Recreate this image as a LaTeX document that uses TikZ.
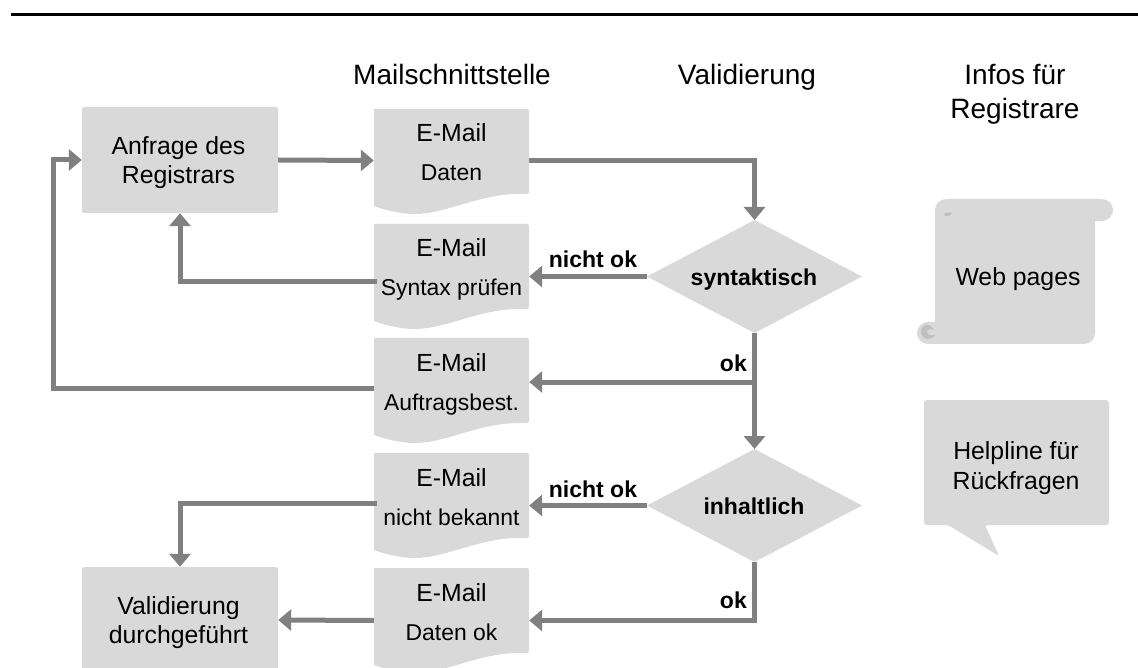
\documentclass[tikz,border=0pt]{standalone}
\usepackage{fontspec}
\setmainfont{Liberation Sans}
\usetikzlibrary{arrows.meta,calc}
\definecolor{shapefill}{HTML}{D9D9D9}
\definecolor{linegray}{HTML}{808080}
\definecolor{curlgray}{HTML}{BFBFBF}
\tikzset{
  x=1pt,y=-1pt,
  conn/.style={draw=linegray,line width=5pt,-{Triangle[length=13pt,width=21pt]}},
  connplain/.style={draw=linegray,line width=5pt},
  box/.style={fill=shapefill,rounded corners=2pt,minimum width=196pt,inner sep=0pt},
  docarea/.style={minimum width=155pt,minimum height=105pt,inner sep=0pt},
  basetxt/.style={anchor=base,inner sep=0pt},
  txt/.style={basetxt,font=\fontsize{24.8}{29}\selectfont,align=center},
  txtsmall/.style={basetxt,font=\fontsize{22.9}{26}\selectfont,align=center},
  headw/.style={basetxt,font=\fontsize{28}{34.5}\selectfont,align=center},
  lab/.style={basetxt,font=\fontsize{23}{29}\selectfont\bfseries},
}
\newcommand{\maildoc}[3]{% name, top, line 2
  \fill[shapefill,rounded corners=2pt] (374,#2) -- (529,#2) -- (529,#2+85) -- (520,#2+85)
     [sharp corners] .. controls (480,#2+85) and (445,#2+105) .. (415,#2+105)
     .. controls (400,#2+105) and (385,#2+101) .. (374,#2+97) -- cycle;
  \node[docarea] (#1) at (451.5,#2+52.5) {};
  \node[txt] (#1a) at (451.5,#2+33) {E-Mail};
  \node[txtsmall] (#1b) at (451.5,#2+72) {#3};
}
\begin{document}
\begin{tikzpicture}
\useasboundingbox (0,0) rectangle (1138,668);
\begin{scope}
\clip (0,0) rectangle (1138,668);
\node[box,minimum height=106pt] (anf) at (180,160) {};
\node[box,minimum height=106pt] (val) at (180,620) {};
\maildoc{m1}{109}{Daten}
\maildoc{m2}{224}{Syntax prüfen}
\maildoc{m3}{338}{Auftragsbest.}
\maildoc{m4}{453}{nicht bekannt}
\maildoc{m5}{568}{Daten ok}
\coordinate (d1n) at (754.5,220);
\coordinate (d1s) at (754.5,333);
\coordinate (d1w) at (647,276.5);
\coordinate (d1e) at (862,276.5);
\fill[shapefill] (d1n) -- (d1e) -- (d1s) -- (d1w) -- cycle;
\coordinate (d2n) at (754.5,449);
\coordinate (d2s) at (754.5,562);
\coordinate (d2w) at (647,505.5);
\coordinate (d2e) at (862,505.5);
\fill[shapefill] (d2n) -- (d2e) -- (d2s) -- (d2w) -- cycle;
\end{scope}
\coordinate (ruleL) at (11,14.5);
\coordinate (ruleR) at (1138,14.5);
\draw[black,line width=2.6pt] (ruleL) -- (ruleR);
% connectors
\draw[conn] (anf.east) -- ($(m1.west)+(0,-1)$);
\draw[conn] ($(m1.east)+(0,-0.5)$) -| (d1n);
\draw[conn] (d1w) -- (m2.east);
\draw[conn] ($(m2.west)+(3,5.5)$) -| (anf.south);
\coordinate (okj1) at (754.5,382);
\draw[connplain] (d1s) -- (okj1);
\draw[conn] (okj1) -- (m3.east |- okj1);
\draw[conn] (okj1) -- (d2n);
\draw[conn] ($(m3.west)+(0,-2.5)$) -- (53,388) |- (anf.west);
\draw[conn] (d2w) -- (m4.east);
\draw[conn] ($(m4.west)+(3,-2.5)$) -| (val.north);
\draw[conn] (d2s) |- (m5.east);
\draw[conn] (m5.west) -- (val.east);
% labels
\node[txt] (anft) at (178.5,184) {Anfrage des\\Registrars};
\node[txt] (valt) at (178.5,643) {Validierung\\durchgeführt};
\node[lab] (d1t) at (754,286) {syntaktisch};
\node[lab] (d2t) at (754,514) {inhaltlich};
\node[lab] (no1) at (593,268) {nicht ok};
\node[lab] (no2) at (593,497) {nicht ok};
\node[lab,anchor=base east] (ok1) at (747,371) {ok};
\node[lab,anchor=base east] (ok2) at (747,608) {ok};
\node[headw] (h1) at (452,85) {Mailschnittstelle};
\node[headw] (h2) at (747,85) {Validierung};
\node[headw] (h3) at (1015,119) {Infos für\\Registrare};
% scroll
\path[fill=shapefill] (946,199) -- (1102,199) .. controls (1108,199) and (1113,204) .. (1113,210)
  .. controls (1113,216) and (1108,221) .. (1102,221) -- (1095,221) -- (1095,333)
  .. controls (1095,339) and (1090,344) .. (1084,344) -- (928,344)
  .. controls (922,344) and (917,339) .. (917,333) .. controls (917,327) and (922,322) .. (928,322)
  -- (935,322) -- (935,210) .. controls (935,204) and (940,199) .. (946,199) -- cycle;
\fill[curlgray] (925,325) .. controls (919,327) and (919,338) .. (928,339) .. controls (931,339) and (934,337) .. (935,335)
  .. controls (931,336) and (928,335) .. (927,332) .. controls (927,329) and (931,328) .. (934,330)
  .. controls (932,326) and (928,324) .. (925,325) -- cycle;
\fill[curlgray] (944,214) .. controls (946,212) and (950,212) .. (952,213) .. controls (951,215) and (947,217) .. (945,216) -- cycle;
\node[txt] (web) at (1018,286) {Web pages};
% speech bubble
\path[fill=shapefill,rounded corners=3pt] (924,400) -- (1109,400) -- (1109,525) -- (985,525) -- (999,556) -- (948,525) -- (924,525) -- cycle;
\node[txt,font=\fontsize{24.8}{30}\selectfont] (help) at (1016,489) {Helpline für\\Rückfragen};
\end{tikzpicture}
\end{document}
